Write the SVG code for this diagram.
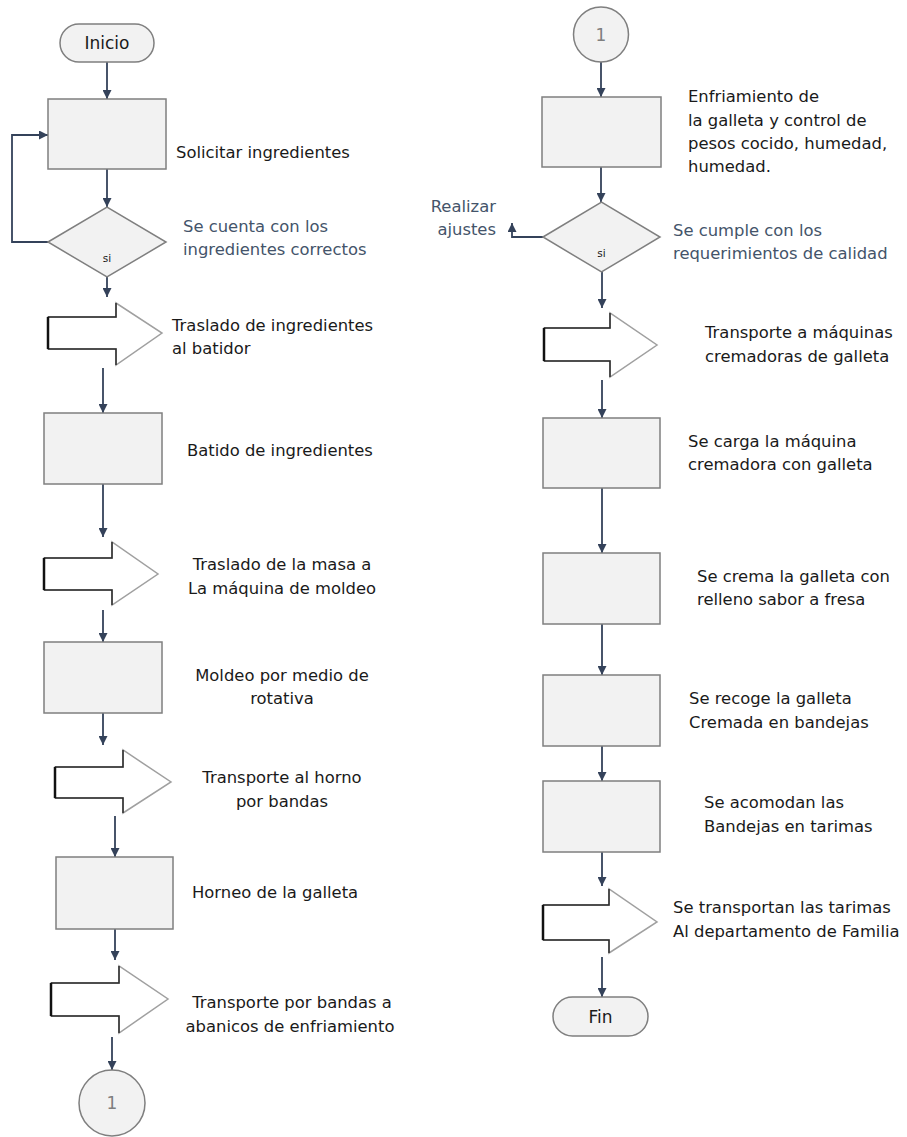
<svg xmlns="http://www.w3.org/2000/svg" width="907" height="1137" viewBox="0 0 907 1137">
<defs>
<marker id="ah" viewBox="0 0 10 10" refX="10" refY="5" markerWidth="9" markerHeight="9" markerUnits="userSpaceOnUse" orient="auto">
<path d="M0,0 L10,5 L0,10 z" fill="#34425a"/>
</marker>
</defs>
<style>
.box{fill:#f2f2f2;stroke:#7f7f7f;stroke-width:1.5}
.term{fill:#f2f2f2;stroke:#7f7f7f;stroke-width:1.5}
.barrow{fill:#ffffff;stroke:#a0a0a0;stroke-width:1.5}
.bedge{fill:none;stroke:#2b2b2b;stroke-width:1.5}
.bleft{fill:none;stroke:#111;stroke-width:2.5}
.conn{fill:none;stroke:#34425a;stroke-width:1.8;marker-end:url(#ah)}
text{font-family:"DejaVu Sans","Liberation Sans",sans-serif;font-size:16.4px;fill:#1a1a1a}
.blue{fill:#44546a}
.si{font-size:10.5px}
.num{fill:#7f7f7f;font-size:17px}
.tt{font-size:17px}
</style>

<g id="connectors">
<line class="conn" x1="107" y1="62" x2="107" y2="99"/>
<line class="conn" x1="107" y1="169" x2="107" y2="207"/>
<path class="conn" d="M48,242 H12 V135 H48"/>
<line class="conn" x1="107" y1="277" x2="107" y2="297"/>
<line class="conn" x1="103" y1="368" x2="103" y2="413"/>
<line class="conn" x1="103" y1="484" x2="103" y2="537"/>
<line class="conn" x1="103" y1="610" x2="103" y2="642"/>
<line class="conn" x1="103" y1="713" x2="103" y2="745"/>
<line class="conn" x1="115" y1="816" x2="115" y2="857"/>
<line class="conn" x1="115" y1="929" x2="115" y2="960"/>
<line class="conn" x1="112" y1="1037" x2="112" y2="1070"/>
<line class="conn" x1="601" y1="62" x2="601" y2="97"/>
<line class="conn" x1="601" y1="167" x2="601" y2="202"/>
<path class="conn" d="M543,237 H512 V223"/>
<line class="conn" x1="602" y1="272" x2="602" y2="308"/>
<line class="conn" x1="602" y1="380" x2="602" y2="418"/>
<line class="conn" x1="602" y1="488" x2="602" y2="553"/>
<line class="conn" x1="602" y1="624" x2="602" y2="675"/>
<line class="conn" x1="602" y1="746" x2="602" y2="781"/>
<line class="conn" x1="602" y1="852" x2="602" y2="886"/>
<line class="conn" x1="602" y1="957" x2="602" y2="997"/>
</g>

<g id="inicio">
<rect class="term" x="60" y="24" width="94" height="38" rx="19"/>
<text class="tt" x="107" y="49" text-anchor="middle">Inicio</text>
</g>

<g id="solicitar">
<rect class="box" x="48" y="99" width="118" height="70"/>
<text x="176" y="158">Solicitar ingredientes</text>
</g>

<g id="decision1">
<polygon class="box" points="48,242 107,207 166,242 107,277"/>
<text class="si" x="107" y="262" text-anchor="middle">si</text>
<text class="blue" x="183" y="232">Se cuenta con los</text>
<text class="blue" x="183" y="255">ingredientes correctos</text>
</g>

<g id="traslado1">
<polygon class="barrow" points="48,317 116,317 116,303 162,333 116,365 116,349 48,349"/>
<path class="bedge" d="M116,303 V317 H48 M48,349 H116 V365"/>
<path class="bleft" d="M48,317 V349"/>
<text x="172" y="331">Traslado de ingredientes</text>
<text x="172" y="354">al batidor</text>
</g>

<g id="batido">
<rect class="box" x="44" y="413" width="118" height="71"/>
<text x="187" y="456">Batido de ingredientes</text>
</g>

<g id="traslado2">
<polygon class="barrow" points="44,558 112,558 112,542 158,574 112,605 112,590 44,590"/>
<path class="bedge" d="M112,542 V558 H44 M44,590 H112 V605"/>
<path class="bleft" d="M44,558 V590"/>
<text x="282" y="570" text-anchor="middle">Traslado de la masa a</text>
<text x="282" y="594" text-anchor="middle">La máquina de moldeo</text>
</g>

<g id="moldeo">
<rect class="box" x="44" y="642" width="118" height="71"/>
<text x="282" y="681" text-anchor="middle">Moldeo por medio de</text>
<text x="282" y="704" text-anchor="middle">rotativa</text>
</g>

<g id="transporte1">
<polygon class="barrow" points="55,767 123,767 123,750 171,782 123,813 123,798 55,798"/>
<path class="bedge" d="M123,750 V767 H55 M55,798 H123 V813"/>
<path class="bleft" d="M55,767 V798"/>
<text x="282" y="783" text-anchor="middle">Transporte al horno</text>
<text x="282" y="807" text-anchor="middle">por bandas</text>
</g>

<g id="horneo">
<rect class="box" x="56" y="857" width="117" height="72"/>
<text x="192" y="898">Horneo de la galleta</text>
</g>

<g id="transporte2">
<polygon class="barrow" points="51,983 119,983 119,966 168,999 119,1033 119,1016 51,1016"/>
<path class="bedge" d="M119,966 V983 H51 M51,1016 H119 V1033"/>
<path class="bleft" d="M51,983 V1016"/>
<text x="292" y="1008" text-anchor="middle">Transporte por bandas a</text>
<text x="290" y="1032" text-anchor="middle">abanicos de enfriamiento</text>
</g>

<g id="conector1a">
<circle class="box" cx="112" cy="1103" r="33"/>
<text class="num" x="112" y="1109" text-anchor="middle">1</text>
</g>

<g id="conector1b">
<circle class="box" cx="601" cy="34.5" r="27.5"/>
<text class="num" x="601" y="41" text-anchor="middle">1</text>
</g>

<g id="enfriamiento">
<rect class="box" x="542" y="97" width="119" height="70"/>
<text x="688" y="102">Enfriamiento de</text>
<text x="688" y="126">la galleta y control de</text>
<text x="688" y="149">pesos cocido, humedad,</text>
<text x="688" y="172">humedad.</text>
</g>

<g id="decision2">
<polygon class="box" points="543,237 601.5,202 660,237 601.5,272"/>
<text class="si" x="601.5" y="257" text-anchor="middle">si</text>
<text class="blue" x="673" y="236">Se cumple con los</text>
<text class="blue" x="673" y="259">requerimientos de calidad</text>
<text class="blue" x="496" y="212" text-anchor="end">Realizar</text>
<text class="blue" x="496" y="235" text-anchor="end">ajustes</text>
</g>

<g id="transporte3">
<polygon class="barrow" points="544,328 610,328 610,313 657,345 610,377 610,361 544,361"/>
<path class="bedge" d="M610,313 V328 H544 M544,361 H610 V377"/>
<path class="bleft" d="M544,328 V361"/>
<text x="705" y="338">Transporte a máquinas</text>
<text x="705" y="362">cremadoras de galleta</text>
</g>

<g id="carga">
<rect class="box" x="543" y="418" width="117" height="70"/>
<text x="688" y="447">Se carga la máquina</text>
<text x="688" y="470">cremadora con galleta</text>
</g>

<g id="crema">
<rect class="box" x="543" y="553" width="117" height="71"/>
<text x="697" y="582">Se crema la galleta con</text>
<text x="697" y="605">relleno sabor a fresa</text>
</g>

<g id="recoge">
<rect class="box" x="543" y="675" width="117" height="71"/>
<text x="689" y="704">Se recoge la galleta</text>
<text x="689" y="728">Cremada en bandejas</text>
</g>

<g id="acomodan">
<rect class="box" x="543" y="781" width="117" height="71"/>
<text x="704" y="808">Se acomodan las</text>
<text x="704" y="832">Bandejas en tarimas</text>
</g>

<g id="transporte4">
<polygon class="barrow" points="543,905 609,905 609,889 657,922 609,953 609,940 543,940"/>
<path class="bedge" d="M609,889 V905 H543 M543,940 H609 V953"/>
<path class="bleft" d="M543,905 V940"/>
<text x="673" y="913">Se transportan las tarimas</text>
<text x="673" y="937">Al departamento de Familia</text>
</g>

<g id="fin">
<rect class="term" x="553" y="997" width="95" height="39" rx="19.5"/>
<text class="tt" x="600.5" y="1023" text-anchor="middle">Fin</text>
</g>
</svg>
